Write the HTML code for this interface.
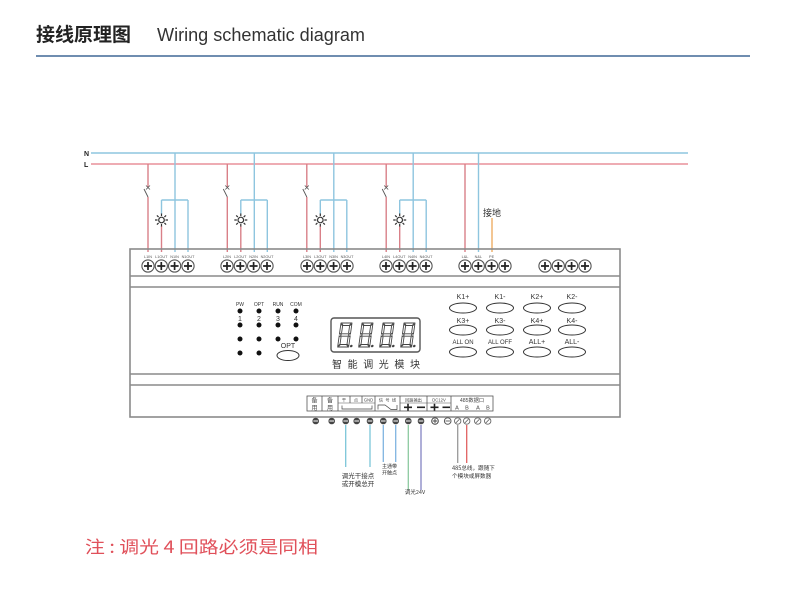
<!DOCTYPE html>
<html>
<head>
<meta charset="utf-8">
<style>
  html,body{margin:0;padding:0;background:#fff;}
  body{width:800px;height:589px;overflow:hidden;}
  svg{display:block;}
</style>
</head>
<body>
<svg width="800" height="589" viewBox="0 0 800 589" xmlns="http://www.w3.org/2000/svg" xmlns:xlink="http://www.w3.org/1999/xlink" font-family="'Liberation Sans','Noto Sans CJK SC',sans-serif">
  <defs>
    <g id="t">
      <circle r="6.1" fill="#fff" stroke="#555" stroke-width="1.1"/>
      <path d="M-4 0H4M0 -4V4" stroke="#222" stroke-width="1.7"/>
    </g>
    <g id="lamp">
      <circle r="2.8" fill="none" stroke="#333" stroke-width="1.2"/>
      <path d="M0 -6.5V-4 M0 4V6.5 M-6.5 0H-4 M4 0H6.5 M-4.6 -4.6L-2.9 -2.9 M4.6 4.6L2.9 2.9 M-4.6 4.6L-2.9 2.9 M4.6 -4.6L2.9 -2.9" stroke="#333" stroke-width="1.2"/>
    </g>
    <g id="dig" fill="none" stroke="#444" stroke-width="0.9">
      <path d="M2.5 0H12.5L10.5 2.5H4.5Z"/>
      <path d="M13 0.8V11L11 10V3Z"/>
      <path d="M13 13V23.2L11 21V14Z"/>
      <path d="M2.5 24H12.5L10.5 21.5H4.5Z"/>
      <path d="M2 13V23.2L4 21V14Z"/>
      <path d="M2 0.8V11L4 10V3Z"/>
      <path d="M3 12L4.5 10.8H10.5L12 12L10.5 13.2H4.5Z"/>
      <circle cx="15.5" cy="23" r="1.3" fill="#444" stroke="none"/>
    </g>
    <g id="tm">
      <circle r="3.3" fill="#444"/>
      <path d="M-2.3 0H2.3" stroke="#fff" stroke-width="1"/>
    </g>
    <g id="to">
      <circle r="3.2" fill="#fff" stroke="#666" stroke-width="0.9"/>
      <path d="M-1.8 1.8L1.8 -1.8" stroke="#666" stroke-width="0.8"/>
    </g>
  </defs>

  <!-- Header -->
  <text x="36" y="41" font-size="19" font-weight="bold" fill="#222" font-family="'Noto Sans CJK SC',sans-serif">接线原理图</text>
  <text x="157" y="41" font-size="18" fill="#333" textLength="208" lengthAdjust="spacingAndGlyphs">Wiring schematic diagram</text>
  <line x1="36" y1="56" x2="750" y2="56" stroke="#6f8db0" stroke-width="2"/>

  <!-- N / L labels and mains -->
  <text x="84" y="156" font-size="7" font-weight="bold" fill="#222">N</text>
  <text x="84" y="167" font-size="7" font-weight="bold" fill="#222">L</text>
  <line x1="91" y1="153" x2="688" y2="153" stroke="#8ec5df" stroke-width="1.5"/>
  <line x1="91" y1="164" x2="688" y2="164" stroke="#e8909a" stroke-width="1.5"/>

  <!-- Group wiring (4 dimming channels) -->
  <g id="grp0">
    <path d="M148 164V187 M148 197V252" stroke="#d98088" stroke-width="1.4" fill="none"/>
    <path d="M148 197L144 189" stroke="#555" stroke-width="0.9"/>
    <path d="M146 185.5L150 189.5M150 185.5L146 189.5" stroke="#555" stroke-width="0.8"/>
    <path d="M175 153V252 M161.5 200H188 M188 200V252 M161.5 200V214" stroke="#8ec5df" stroke-width="1.4" fill="none"/>
    <path d="M161.5 226V252" stroke="#d98088" stroke-width="1.4"/>
    <use xlink:href="#lamp" x="161.5" y="220"/>
  </g>
  <use xlink:href="#grp0" x="79.3"/>
  <use xlink:href="#grp0" x="158.8"/>
  <use xlink:href="#grp0" x="238.2"/>

  <!-- Group 5 power -->
  <path d="M465 164V252" stroke="#d98088" stroke-width="1.4"/>
  <path d="M478.5 153V252" stroke="#8ec5df" stroke-width="1.4"/>
  <path d="M492 218V252" stroke="#f0b878" stroke-width="1.6"/>
  <text x="483" y="216" font-size="9" fill="#333" font-family="'Noto Sans CJK SC',sans-serif">接地</text>

  <!-- Module box -->
  <rect x="130" y="249" width="490" height="168" fill="none" stroke="#8a8a8a" stroke-width="1.6"/>
  <line x1="130" y1="276" x2="620" y2="276" stroke="#8a8a8a" stroke-width="1.6"/>
  <line x1="130" y1="287" x2="620" y2="287" stroke="#8a8a8a" stroke-width="1.6"/>
  <line x1="130" y1="374" x2="620" y2="374" stroke="#8a8a8a" stroke-width="1.6"/>
  <line x1="130" y1="385" x2="620" y2="385" stroke="#8a8a8a" stroke-width="1.6"/>

  <!-- Top terminal labels -->
  <g font-size="3.8" fill="#555" text-anchor="middle">
    <text x="148" y="258">L1IN</text><text x="161.3" y="258">L1OUT</text><text x="174.6" y="258">N1IN</text><text x="188" y="258">N1OUT</text>
    <text x="227" y="258">L2IN</text><text x="240.3" y="258">L2OUT</text><text x="253.6" y="258">N2IN</text><text x="267" y="258">N2OUT</text>
    <text x="307" y="258">L3IN</text><text x="320.3" y="258">L3OUT</text><text x="333.6" y="258">N3IN</text><text x="347" y="258">N3OUT</text>
    <text x="386" y="258">L4IN</text><text x="399.3" y="258">L4OUT</text><text x="412.6" y="258">N4IN</text><text x="426" y="258">N4OUT</text>
    <text x="465" y="258">L&amp;L</text><text x="478.3" y="258">N&amp;L</text><text x="491.6" y="258">PE</text>
  </g>

  <!-- Top terminals -->
  <g>
    <use xlink:href="#t" x="148" y="266"/><use xlink:href="#t" x="161.3" y="266"/><use xlink:href="#t" x="174.6" y="266"/><use xlink:href="#t" x="188" y="266"/>
    <use xlink:href="#t" x="227" y="266"/><use xlink:href="#t" x="240.3" y="266"/><use xlink:href="#t" x="253.6" y="266"/><use xlink:href="#t" x="267" y="266"/>
    <use xlink:href="#t" x="307" y="266"/><use xlink:href="#t" x="320.3" y="266"/><use xlink:href="#t" x="333.6" y="266"/><use xlink:href="#t" x="347" y="266"/>
    <use xlink:href="#t" x="386" y="266"/><use xlink:href="#t" x="399.3" y="266"/><use xlink:href="#t" x="412.6" y="266"/><use xlink:href="#t" x="426" y="266"/>
    <use xlink:href="#t" x="465" y="266"/><use xlink:href="#t" x="478.3" y="266"/><use xlink:href="#t" x="491.6" y="266"/><use xlink:href="#t" x="505" y="266"/>
    <use xlink:href="#t" x="545" y="266"/><use xlink:href="#t" x="558.3" y="266"/><use xlink:href="#t" x="571.6" y="266"/><use xlink:href="#t" x="585" y="266"/>
  </g>

  <!-- LED indicators -->
  <g font-size="5" fill="#333" text-anchor="middle">
    <text x="240" y="306">PW</text><text x="259" y="306">OPT</text><text x="278" y="306">RUN</text><text x="296" y="306">COM</text>
  </g>
  <g font-size="7" fill="#333" text-anchor="middle">
    <text x="240" y="321">1</text><text x="259" y="321">2</text><text x="278" y="321">3</text><text x="296" y="321">4</text>
  </g>
  <g fill="#111">
    <circle cx="240" cy="311" r="2.5"/><circle cx="259" cy="311" r="2.5"/><circle cx="278" cy="311" r="2.5"/><circle cx="296" cy="311" r="2.5"/>
    <circle cx="240" cy="325" r="2.5"/><circle cx="259" cy="325" r="2.5"/><circle cx="278" cy="325" r="2.5"/><circle cx="296" cy="325" r="2.5"/>
    <circle cx="240" cy="339" r="2.5"/><circle cx="259" cy="339" r="2.5"/><circle cx="278" cy="339" r="2.5"/><circle cx="296" cy="339" r="2.5"/>
    <circle cx="240" cy="353" r="2.5"/><circle cx="259" cy="353" r="2.5"/>
  </g>
  <text x="288" y="348" font-size="7" fill="#333" text-anchor="middle">OPT</text>
  <ellipse cx="288" cy="355.5" rx="11" ry="5" fill="none" stroke="#333" stroke-width="1"/>

  <!-- Display -->
  <rect x="331" y="318" width="89" height="34" rx="3" fill="none" stroke="#555" stroke-width="1.4"/>
  <use xlink:href="#dig" transform="translate(339,323) skewX(-8)"/>
  <use xlink:href="#dig" transform="translate(360,323) skewX(-8)"/>
  <use xlink:href="#dig" transform="translate(381,323) skewX(-8)"/>
  <use xlink:href="#dig" transform="translate(402,323) skewX(-8)"/>
  <text x="332" y="368" font-size="10" fill="#333" textLength="88" lengthAdjust="spacing" font-family="'Noto Sans CJK SC',sans-serif">智能调光模块</text>

  <!-- Buttons -->
  <g font-size="7" fill="#333" text-anchor="middle">
    <text x="463" y="299">K1+</text><text x="500" y="299">K1-</text><text x="537" y="299">K2+</text><text x="572" y="299">K2-</text>
    <text x="463" y="323">K3+</text><text x="500" y="323">K3-</text><text x="537" y="323">K4+</text><text x="572" y="323">K4-</text>
  </g>
  <g font-size="6" fill="#333" text-anchor="middle">
    <text x="463" y="344">ALL ON</text><text x="500" y="344">ALL OFF</text>
  </g>
  <g font-size="7" fill="#333" text-anchor="middle">
    <text x="537" y="344">ALL+</text><text x="572" y="344">ALL-</text>
  </g>
  <g fill="none" stroke="#333" stroke-width="1">
    <ellipse cx="463" cy="308" rx="13.5" ry="5"/><ellipse cx="500" cy="308" rx="13.5" ry="5"/><ellipse cx="537" cy="308" rx="13.5" ry="5"/><ellipse cx="572" cy="308" rx="13.5" ry="5"/>
    <ellipse cx="463" cy="330" rx="13.5" ry="5"/><ellipse cx="500" cy="330" rx="13.5" ry="5"/><ellipse cx="537" cy="330" rx="13.5" ry="5"/><ellipse cx="572" cy="330" rx="13.5" ry="5"/>
    <ellipse cx="463" cy="352" rx="13.5" ry="5"/><ellipse cx="500" cy="352" rx="13.5" ry="5"/><ellipse cx="537" cy="352" rx="13.5" ry="5"/><ellipse cx="572" cy="352" rx="13.5" ry="5"/>
  </g>

  <!-- Lower terminal label panel -->
  <rect x="307" y="396" width="186" height="15" fill="#fff" stroke="#555" stroke-width="0.8"/>
  <g stroke="#555" stroke-width="0.8">
    <line x1="322" y1="396" x2="322" y2="411"/>
    <line x1="338" y1="396" x2="338" y2="411"/>
    <line x1="375" y1="396" x2="375" y2="411"/>
    <line x1="400" y1="396" x2="400" y2="411"/>
    <line x1="427" y1="396" x2="427" y2="411"/>
    <line x1="451" y1="396" x2="451" y2="411"/>
    <line x1="350" y1="396" x2="350" y2="403"/>
    <line x1="362" y1="396" x2="362" y2="403"/>
    <line x1="338" y1="403" x2="375" y2="403" stroke-width="0.5"/>
    <line x1="400" y1="403" x2="451" y2="403" stroke-width="0.5"/>
  </g>
  <g font-size="6" fill="#444" text-anchor="middle" font-family="'Noto Sans CJK SC',sans-serif">
    <text x="314.5" y="402.5">备</text><text x="314.5" y="410">用</text>
    <text x="330" y="402.5">备</text><text x="330" y="410">用</text>
  </g>
  <g font-size="4.2" fill="#444" text-anchor="middle" font-family="'Liberation Sans','Noto Sans CJK SC',sans-serif">
    <text x="344" y="401.5">干</text><text x="356" y="401.5">点</text><text x="368.5" y="401.5">GND</text>
    <text x="381" y="401.5">信</text><text x="387.5" y="401.5">号</text><text x="394" y="401.5">线</text>
    <text x="413.5" y="401.5">回路输出</text>
    <text x="439" y="401.5">DC12V</text>
  </g>
  <text x="472" y="401.8" font-size="5.2" fill="#444" text-anchor="middle" font-family="'Liberation Sans','Noto Sans CJK SC',sans-serif">485数据口</text>
  <path d="M342 405.5V409H372V405.5" fill="none" stroke="#444" stroke-width="0.7"/>
  <path d="M378 409.5V405H385L391 409.5H397V405" fill="none" stroke="#444" stroke-width="0.7"/>
  <g stroke="#222" stroke-width="1.6">
    <path d="M404 407.3H412M408 403.8V410.8"/>
    <path d="M417 407.3H425"/>
    <path d="M430.5 407.3H438.5M434.5 403.8V410.8"/>
    <path d="M442.5 407.3H450"/>
  </g>
  <g font-size="5.5" fill="#444" text-anchor="middle">
    <text x="457" y="409.5">A</text><text x="467" y="409.5">B</text><text x="478" y="409.5">A</text><text x="488" y="409.5">B</text>
  </g>

  <!-- Bottom wires -->
  <g fill="none" stroke-width="1.3">
    <path d="M345.7 425V467" stroke="#7cc6d8"/>
    <path d="M370 425V467" stroke="#7cc6d8"/>
    <path d="M383.3 425V462" stroke="#80b4e0"/>
    <path d="M395.7 425V462" stroke="#80b4e0"/>
    <path d="M408.3 425V490" stroke="#8ccaa0"/>
    <path d="M421 425V490" stroke="#8484c4"/>
    <path d="M457.7 425V463" stroke="#999"/>
    <path d="M466.7 425V463" stroke="#e06060"/>
  </g>

  <!-- Bottom terminals -->
  <g>
    <use xlink:href="#tm" x="315.7" y="421"/><use xlink:href="#tm" x="331.7" y="421"/><use xlink:href="#tm" x="345.7" y="421"/>
    <use xlink:href="#tm" x="356.7" y="421"/><use xlink:href="#tm" x="370" y="421"/><use xlink:href="#tm" x="383.3" y="421"/>
    <use xlink:href="#tm" x="395.7" y="421"/><use xlink:href="#tm" x="408.3" y="421"/><use xlink:href="#tm" x="421" y="421"/>
    <circle cx="435" cy="421" r="3.3" fill="#fff" stroke="#444" stroke-width="1"/>
    <path d="M432.8 421H437.2M435 418.8V423.2" stroke="#444" stroke-width="0.9"/>
    <circle cx="447.7" cy="421" r="3.3" fill="#fff" stroke="#555" stroke-width="1"/>
    <path d="M445.5 421H449.9" stroke="#555" stroke-width="0.9"/>
    <use xlink:href="#to" x="457.7" y="421"/><use xlink:href="#to" x="466.7" y="421"/>
    <use xlink:href="#to" x="477.7" y="421"/><use xlink:href="#to" x="487.7" y="421"/>
  </g>

  <!-- Bottom labels -->
  <g fill="#333" font-family="'Noto Sans CJK SC',sans-serif">
    <text x="358" y="478" font-size="6.5" text-anchor="middle">调光干接点</text>
    <text x="358" y="486" font-size="6.5" text-anchor="middle">或开模总开</text>
    <text x="389.5" y="468" font-size="5" text-anchor="middle">主通带</text>
    <text x="389.5" y="474.5" font-size="5" text-anchor="middle">开触点</text>
    <text x="415" y="494" font-size="5.5" text-anchor="middle">调光24V</text>
    <text x="452" y="470" font-size="5.6">485总线，跟随下</text>
    <text x="452" y="478" font-size="5.6">个模块或屏数器</text>
  </g>

  <!-- Note -->
  <text x="85" y="553" font-size="17" fill="#e0505a" textLength="233" lengthAdjust="spacingAndGlyphs" font-family="'Noto Sans CJK SC',sans-serif">注 : 调光 4 回路必须是同相</text>
</svg>
</body>
</html>
